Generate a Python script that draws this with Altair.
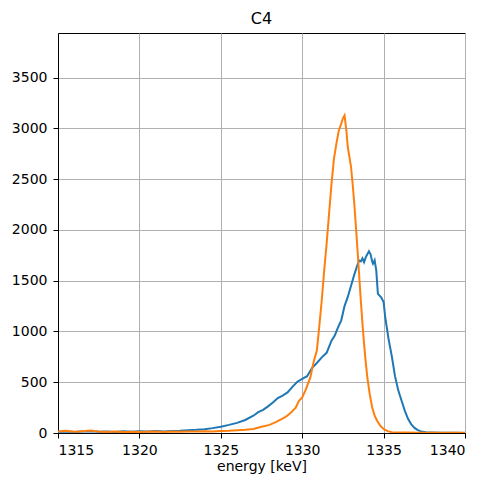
import altair as alt
import pandas as pd

# Blue series (broad peak)
blue_energy = [1315.0, 1315.5, 1316.0, 1316.5, 1317.0, 1317.5, 1318.0, 1318.5, 1319.0, 1319.5,
               1320.0, 1320.5, 1321.0, 1321.5, 1322.0, 1322.5, 1323.0, 1323.5, 1324.0, 1324.5,
               1325.0, 1325.5, 1326.0, 1326.5, 1327.0, 1327.3, 1327.6, 1327.9, 1328.2, 1328.5,
               1328.8, 1329.1, 1329.4, 1329.7, 1330.0, 1330.3, 1330.6, 1330.9, 1331.2, 1331.5,
               1331.8, 1332.0, 1332.2, 1332.4, 1332.6, 1332.8, 1333.0, 1333.2, 1333.4, 1333.5,
               1333.6, 1333.7, 1333.8, 1333.9, 1334.0, 1334.1, 1334.2, 1334.3, 1334.35, 1334.45,
               1334.55, 1334.65, 1334.85, 1335.0, 1335.1, 1335.3, 1335.5, 1335.7, 1335.9, 1336.1,
               1336.3, 1336.5, 1336.7, 1336.9, 1337.1, 1337.3, 1337.6, 1338.0, 1338.5, 1339.0,
               1339.5, 1340.0]
blue_counts = [12, 15, 10, 14, 18, 12, 15, 11, 16, 13,
               17, 14, 19, 16, 20, 22, 26, 31, 38, 48,
               62, 80, 100, 128, 170, 205, 228, 262, 300, 345,
               368, 400, 455, 505, 532, 560, 640, 690, 745, 790,
               910, 960, 1040, 1110, 1250, 1340, 1450, 1560, 1660, 1700,
               1690, 1720, 1683, 1730, 1760, 1790, 1760, 1690, 1667, 1700,
               1600, 1371, 1337, 1290, 1140, 930, 760, 560, 420, 320,
               220, 140, 85, 50, 28, 16, 8, 5, 3, 2,
               2, 1]

# Orange series (narrow peak)
orange_energy = [1315.0, 1315.5, 1316.0, 1316.5, 1317.0, 1317.5, 1318.0, 1318.5, 1319.0, 1319.5,
                 1320.0, 1320.5, 1321.0, 1321.5, 1322.0, 1322.5, 1323.0, 1323.5, 1324.0, 1324.5,
                 1325.0, 1325.5, 1326.0, 1326.5, 1327.0, 1327.5, 1328.0, 1328.4, 1328.7, 1329.0,
                 1329.3, 1329.6, 1329.8, 1330.0, 1330.2, 1330.5, 1330.7, 1330.9, 1331.05, 1331.2,
                 1331.35, 1331.5, 1331.65, 1331.8, 1331.95, 1332.1, 1332.25, 1332.4, 1332.5, 1332.6,
                 1332.7, 1332.8, 1332.9, 1333.0, 1333.1, 1333.2, 1333.3, 1333.4, 1333.5, 1333.6,
                 1333.7, 1333.8, 1333.9, 1334.0, 1334.15, 1334.3, 1334.45, 1334.6, 1334.8, 1335.0,
                 1335.25, 1335.5, 1336.0, 1336.5, 1337.0, 1338.0, 1339.0, 1340.0]
orange_counts = [15, 22, 12, 18, 25, 14, 10, 14, 9, 12,
                 10, 12, 14, 11, 15, 13, 16, 14, 18, 16,
                 20, 22, 28, 32, 40, 62, 80, 110, 135, 160,
                 200, 250, 318, 350, 420, 548, 700, 812, 1050, 1305,
                 1600, 1864, 2160, 2456, 2700, 2850, 2980, 3047, 3100, 3129,
                 3000, 2817, 2720, 2620, 2450, 2258, 2030, 1798, 1550, 1305,
                 1080, 878, 700, 548, 380, 252, 170, 121, 70, 39,
                 18, 8, 5, 4, 3, 3, 2, 2]

x_ticks = [1315, 1320, 1325, 1330, 1335, 1340]
y_ticks = [0, 500, 1000, 1500, 2000, 2500, 3000, 3500]

df = pd.concat([
    pd.DataFrame({"energy": blue_energy, "counts": blue_counts, "series": "blue", "order": 0}),
    pd.DataFrame({"energy": orange_energy, "counts": orange_counts, "series": "orange", "order": 1}),
])

font = "DejaVu Sans"

chart = alt.Chart(df).mark_line(strokeWidth=2, clip=True).encode(
    x=alt.X("energy:Q",
            scale=alt.Scale(domain=[1315, 1340], nice=False, zero=False),
            axis=alt.Axis(title="energy [keV]", values=x_ticks, format="d",
                          labelPadding=5, titlePadding=2)),
    y=alt.Y("counts:Q",
            scale=alt.Scale(domain=[0, 3940], nice=False),
            axis=alt.Axis(title=None, values=y_ticks, format="d", labelPadding=6)),
    color=alt.Color("series:N",
                    scale=alt.Scale(domain=["blue", "orange"], range=["#1f77b4", "#ff7f0e"]),
                    legend=None),
    detail="series:N",
    order=alt.Order("order:Q"),
).properties(
    width=407,
    height=400,
    title=alt.TitleParams("C4", font=font, fontSize=16, fontWeight="normal",
                          color="black", offset=6),
    autosize=alt.AutoSizeParams(type="none"),
    padding={"left": 50, "top": 25, "right": 12, "bottom": 45},
).configure_view(
    stroke="black", strokeWidth=1
).configure_axis(
    labelFont=font, titleFont=font, labelFontSize=14, titleFontSize=14,
    labelColor="black", titleColor="black", titleFontWeight="normal",
    domainColor="black", tickColor="black", tickSize=5,
    gridColor="#b0b0b0", gridWidth=1, grid=True,
)

chart.save("out.html", embed_options={"renderer": "svg", "actions": False})
